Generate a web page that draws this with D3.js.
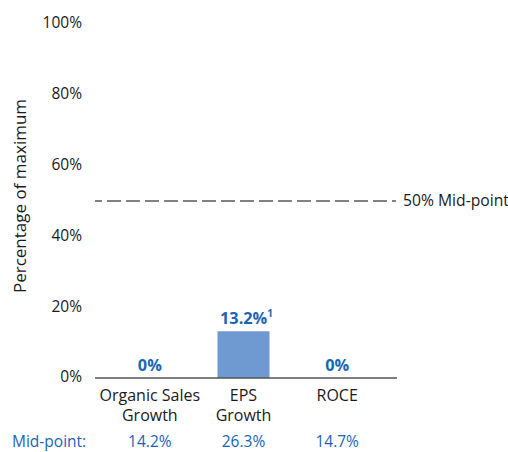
<!DOCTYPE html>
<html><head><meta charset="utf-8">
<script src="https://cdn.jsdelivr.net/npm/d3@7"></script>
<style>body{margin:0;background:#fff}text{font-family:"Open Sans","Noto Sans",sans-serif}</style>
</head><body>
<svg id="c" width="508" height="452"></svg>
<script>
const categories = [["Organic Sales","Growth"],["EPS","Growth"],["ROCE"]];
const values = [0, 13.2, 0];
const valueLabels = ["0%", "13.2%", "0%"];
const valueNotes = ["", "1", ""];
const midpoints = ["14.2%", "26.3%", "14.7%"];
const yTicks = [0, 20, 40, 60, 80, 100];
const refLine = 50;

const svg = d3.select("#c");
const y = d3.scaleLinear().domain([0, 100]).range([378, 24]);
const x = d3.scaleBand().domain(d3.range(values.length)).range([103, 384]).paddingInner(0.445).paddingOuter(0.2225);
const blue = "#1a65b5";

// y tick labels
svg.append("g").selectAll("text").data(yTicks).join("text")
  .attr("x", 82).attr("y", d => y(d) - 1).attr("dy", "0.35em")
  .attr("text-anchor", "end").attr("font-size", 15.5).attr("fill", "#1a1a1a")
  .text(d => d + "%");

// y title
svg.append("text").attr("transform", "translate(26,196) rotate(-90)")
  .attr("text-anchor", "middle").attr("font-size", 17).attr("fill", "#1a1a1a")
  .text("Percentage of maximum");

// bars
svg.append("g").selectAll("rect").data(values).join("rect")
  .attr("x", (d, i) => x(i)).attr("width", x.bandwidth())
  .attr("y", d => y(d)).attr("height", d => y(0) - y(d))
  .attr("fill", "#6e99d1");

// axis line
svg.append("line").attr("x1", 95).attr("x2", 397).attr("y1", y(0)).attr("y2", y(0))
  .attr("stroke", "#555").attr("stroke-width", 1.3);

// ref line
svg.append("line").attr("x1", 95).attr("x2", 396).attr("y1", y(refLine)).attr("y2", y(refLine))
  .attr("stroke", "#5a5a5a").attr("stroke-width", 1.3).attr("stroke-dasharray", "14,5").attr("stroke-dashoffset", 7);
svg.append("text").attr("x", 403).attr("y", y(refLine)).attr("dy", "0.35em")
  .attr("font-size", 15.7).attr("fill", "#1a1a1a").text(refLine + "% Mid-point");

// value labels
const vl = svg.append("g").selectAll("text").data(values).join("text")
  .attr("x", (d, i) => x(i) + x.bandwidth() / 2 + (valueNotes[i] ? 3 : 0))
  .attr("y", d => y(d) - 7)
  .attr("text-anchor", "middle").attr("font-size", 16.3).attr("font-weight", "bold").attr("fill", blue);
vl.append("tspan").text((d, i) => valueLabels[i]);
vl.append("tspan").attr("font-size", 10).attr("dy", -7).text((d, i) => valueNotes[i]);

// category labels
const cl = svg.append("g").selectAll("text").data(categories).join("text")
  .attr("x", (d, i) => x(i) + x.bandwidth() / 2).attr("y", 401)
  .attr("text-anchor", "middle").attr("font-size", 16).attr("fill", "#1a1a1a");
cl.selectAll("tspan").data(d => d).join("tspan")
  .attr("x", function() { return this.parentNode.getAttribute("x"); })
  .attr("dy", (d, j) => j ? 20 : 0).text(d => d);

// mid-point row
svg.append("text").attr("x", 12).attr("y", 447).attr("font-size", 15.5).attr("fill", blue).text("Mid-point:");
svg.append("g").selectAll("text").data(midpoints).join("text")
  .attr("x", (d, i) => x(i) + x.bandwidth() / 2).attr("y", 447)
  .attr("text-anchor", "middle").attr("font-size", 15.5).attr("fill", blue).text(d => d);
</script>
</body></html>
